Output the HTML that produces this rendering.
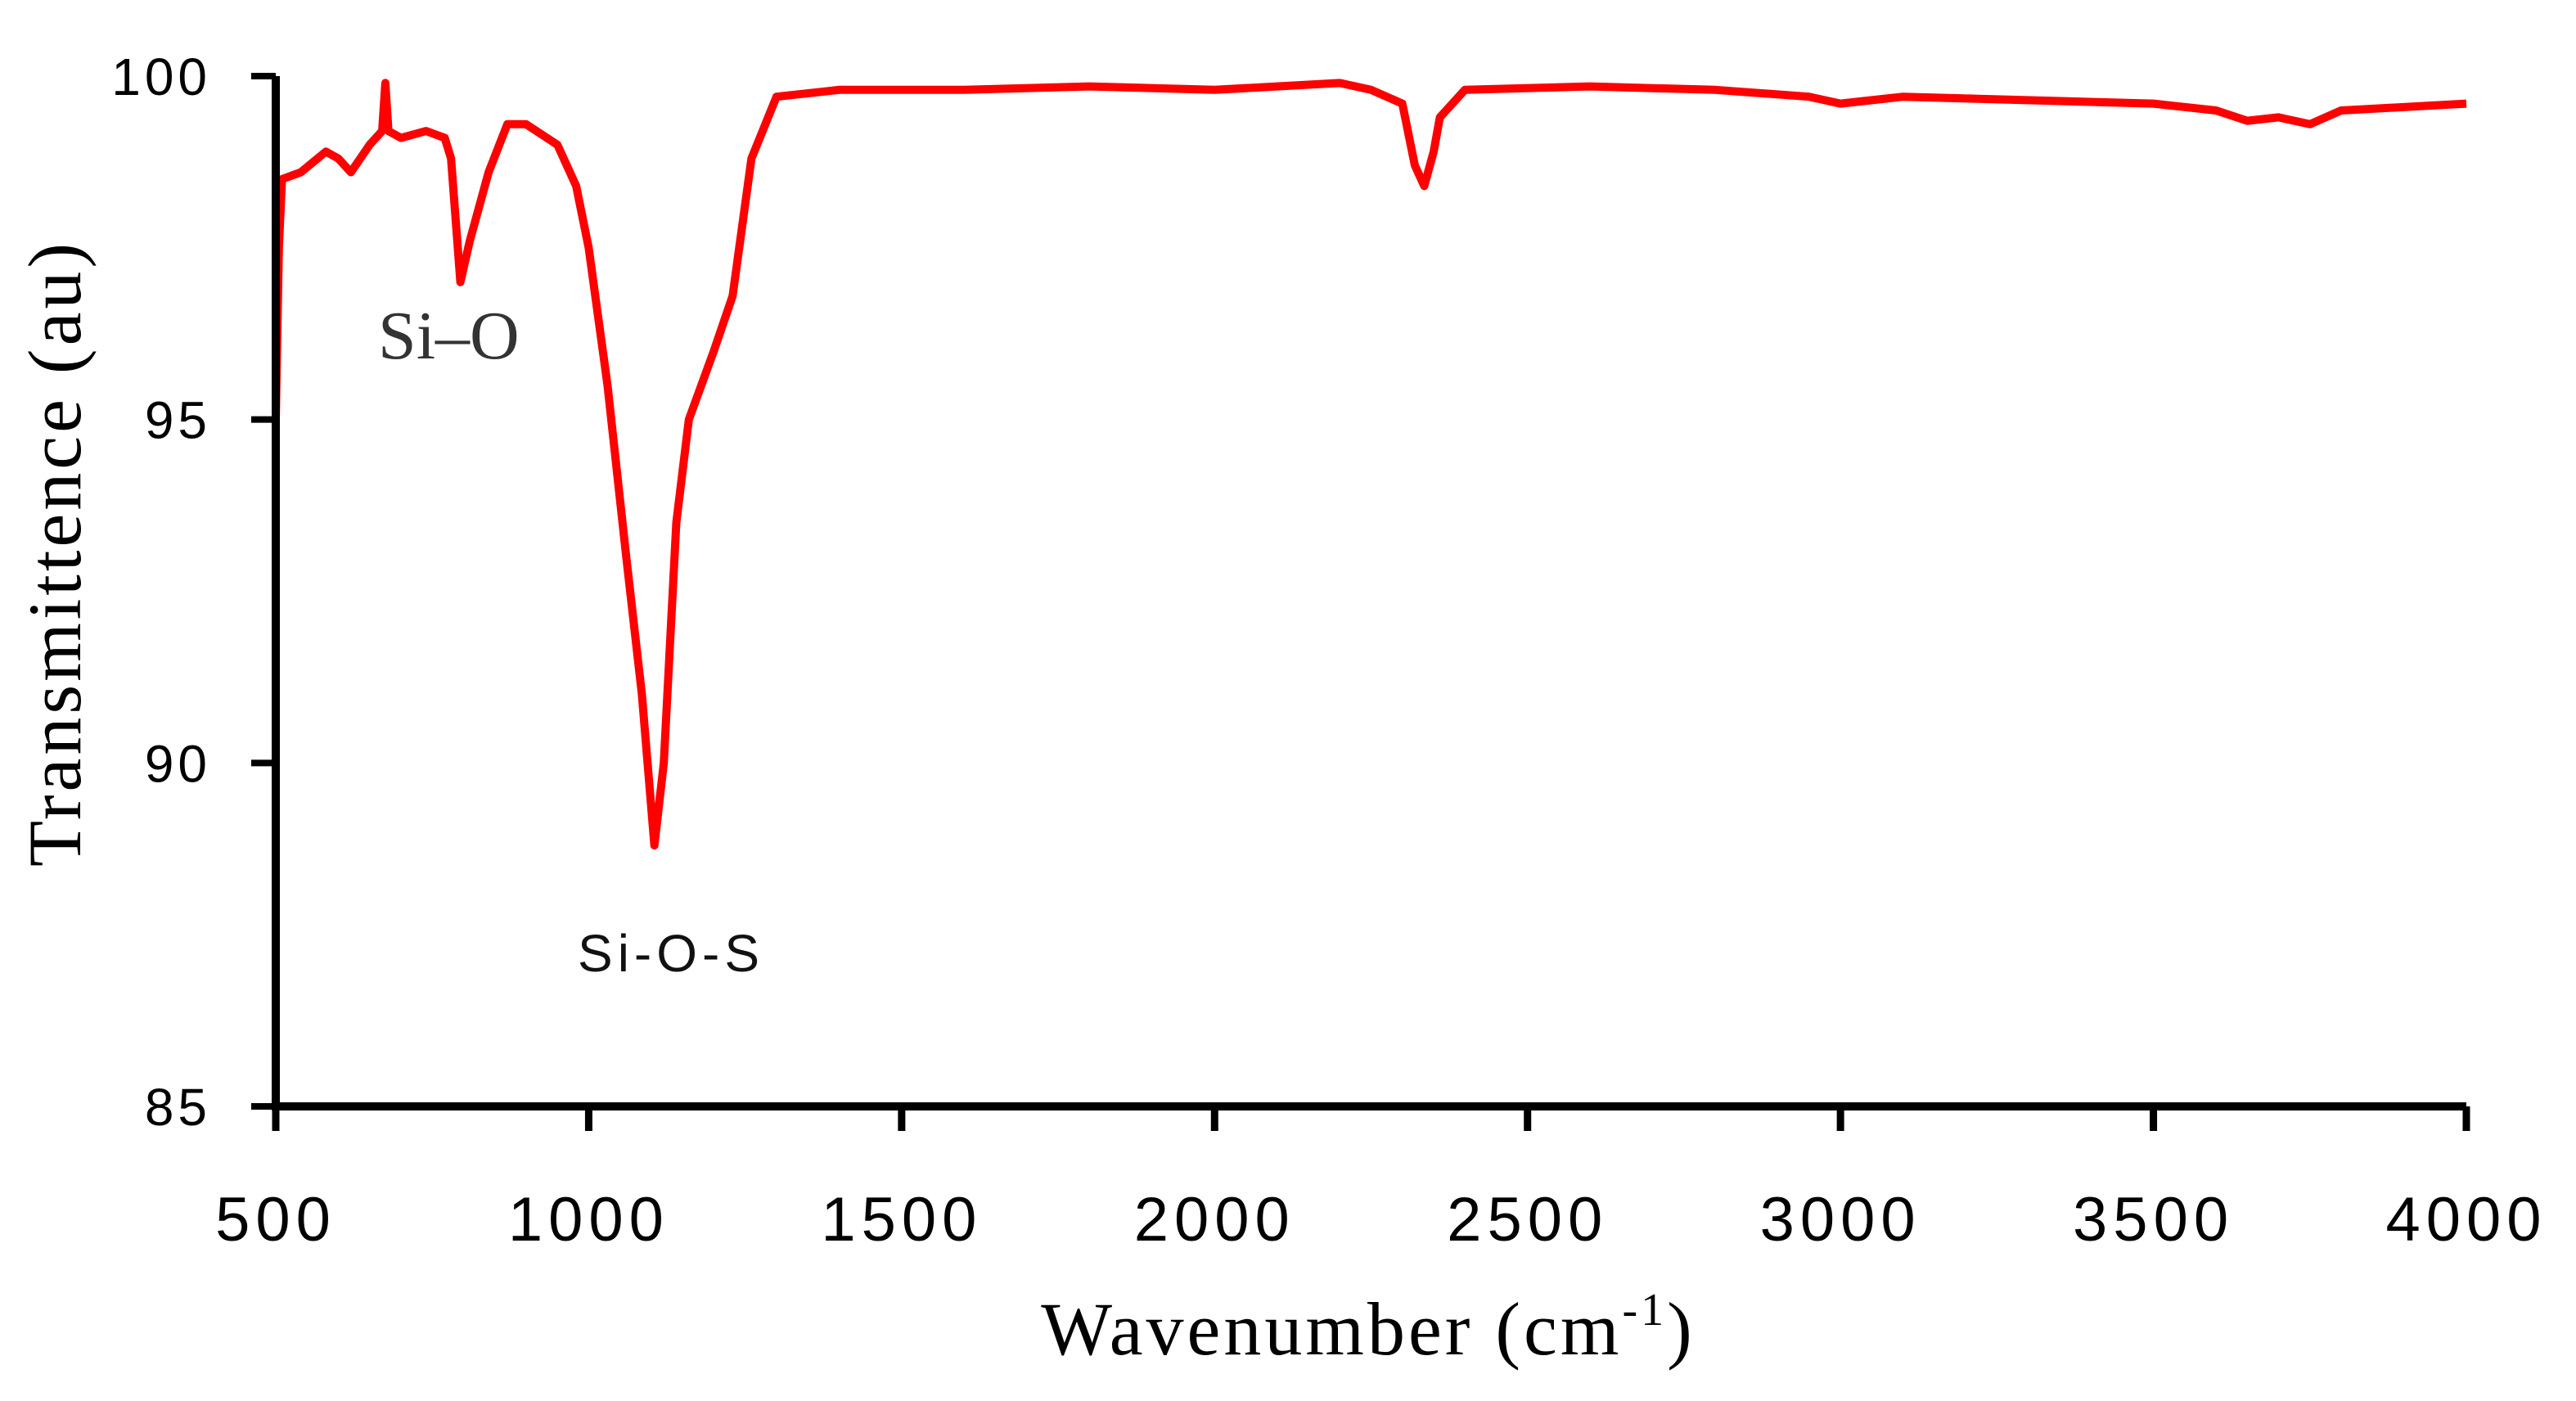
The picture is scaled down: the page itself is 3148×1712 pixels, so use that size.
<!DOCTYPE html>
<html><head><meta charset="utf-8"><style>
body{margin:0;background:#fff;}
svg{display:block;}
</style></head><body>
<svg width="3148" height="1712" viewBox="0 0 3148 1712" xmlns="http://www.w3.org/2000/svg">
<g id="plot"></g>
<text x="462" y="438" font-family="Liberation Serif, serif" font-size="84" fill="#333">Si–O</text>
<text x="706" y="1187" font-family="Liberation Sans, sans-serif" font-size="64" fill="#111" letter-spacing="6">Si-O-S</text>
<text transform="translate(98,676) rotate(-90)" text-anchor="middle" font-family="Liberation Serif, serif" font-size="92" fill="#000" letter-spacing="4">Transmittence (au)</text>
<text x="1672" y="1655" text-anchor="middle" font-family="Liberation Serif, serif" font-size="92" fill="#000" letter-spacing="4">Wavenumber (cm<tspan font-size="56" dy="-36">-1</tspan><tspan dy="36">)</tspan></text>
</svg>
<script>
const wavenumbers=[500,505,510,540,580,600,620,650,670,675,680,700,740,770,780,795,810,840,870,900,950,980,1000,1030,1060,1085,1105,1120,1140,1160,1200,1230,1260,1300,1400,1600,1800,2000,2200,2250,2300,2320,2335,2350,2360,2400,2600,2800,2950,3000,3100,3500,3600,3650,3700,3750,3800,4000];
const transmittance=[95.0,97.5,98.5,98.6,98.9,98.8,98.6,99.0,99.2,99.9,99.2,99.1,99.2,99.1,98.8,97.0,97.6,98.6,99.3,99.3,99.0,98.4,97.5,95.5,93.0,91.0,88.8,90.0,93.5,95.0,96.0,96.8,98.8,99.7,99.8,99.8,99.85,99.8,99.9,99.8,99.6,98.7,98.4,98.9,99.4,99.8,99.85,99.8,99.7,99.6,99.7,99.6,99.5,99.35,99.4,99.3,99.5,99.6];
const xTicks=[500,1000,1500,2000,2500,3000,3500,4000];
const yTicks=[85,90,95,100];
const NS="http://www.w3.org/2000/svg";
const X0=337,X1=3014,Y0=1352,Y1=93;
const xs=v=>X0+(v-500)/3500*(X1-X0);
const ys=v=>Y0-(v-85)/15*(Y0-Y1);
const g=document.getElementById('plot');
function mk(t,a){const e=document.createElementNS(NS,t);for(const k in a)e.setAttribute(k,a[k]);g.appendChild(e);return e;}
let d='';
wavenumbers.forEach((w,i)=>{d+=(i?'L':'M')+xs(w).toFixed(1)+','+ys(transmittance[i]).toFixed(1);});
const line=mk('path',{d:d,fill:'none',stroke:'#ff0000','stroke-width':10,'stroke-linejoin':'round'});


const ax=mk('path',{d:`M${X0},${Y1}V${Y0}H${X1}`,fill:'none',stroke:'#000','stroke-width':10});


xTicks.forEach(v=>{
 const t=mk('line',{x1:xs(v),x2:xs(v),y1:Y0,y2:Y0+30,stroke:'#000','stroke-width':9});
 
 
 const l=mk('text',{x:xs(v),y:1516,'text-anchor':'middle','font-family':'Liberation Sans, sans-serif','font-size':76,'letter-spacing':7});
 l.textContent=v;
 
 
});
yTicks.forEach(v=>{
 const t=mk('line',{x1:X0-30,x2:X0,y1:ys(v),y2:ys(v),stroke:'#000','stroke-width':8});
 
 
 const l=mk('text',{x:258,y:ys(v)+23,'text-anchor':'end','font-family':'Liberation Sans, sans-serif','font-size':64,'letter-spacing':5});
 l.textContent=v;
 
 
});
</script>
</body></html>
